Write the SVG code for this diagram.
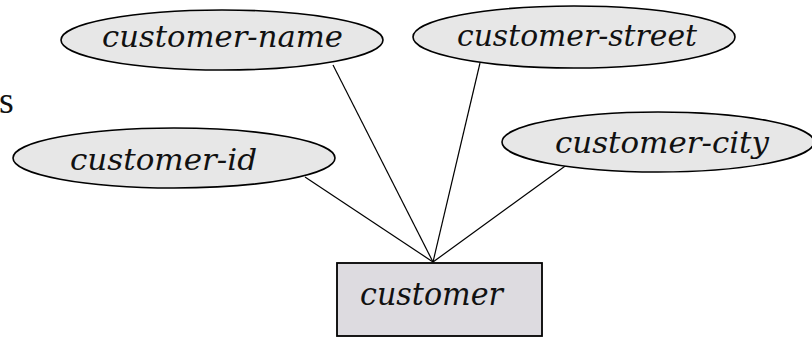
<svg xmlns="http://www.w3.org/2000/svg" width="812" height="338" viewBox="0 0 812 338">
<style>
.attr{fill:#e7e7e7;stroke:#000;stroke-width:1.6}
.ent{fill:#dddbe0;stroke:#000;stroke-width:1.8}
.t{font-family:"DejaVu Serif","Liberation Serif",serif;font-style:italic;fill:#111}
.s{font-family:"Liberation Serif","DejaVu Serif",serif;fill:#111}
.c{stroke:#000;stroke-width:1.2;fill:none}
</style>
<rect width="812" height="338" fill="#fff"/>
<text class="s" x="-1" y="113" font-size="38">s</text>
<g id="connectors">
<line class="c" x1="333" y1="65" x2="433" y2="262"/>
<line class="c" x1="480" y1="63" x2="433" y2="262"/>
<line class="c" x1="305" y1="177" x2="433" y2="262"/>
<line class="c" x1="568" y1="164" x2="433" y2="262"/>
</g>
<g id="customer-name">
<ellipse class="attr" cx="222" cy="40" rx="161" ry="30"/>
<text class="t" x="102" y="47" font-size="29" textLength="241" lengthAdjust="spacingAndGlyphs">customer-name</text>
</g>
<g id="customer-street">
<ellipse class="attr" cx="574" cy="37" rx="161" ry="31"/>
<text class="t" x="457" y="46" font-size="29" textLength="240" lengthAdjust="spacingAndGlyphs">customer-street</text>
</g>
<g id="customer-id">
<ellipse class="attr" cx="174" cy="158" rx="161" ry="30"/>
<text class="t" x="70" y="170" font-size="29" textLength="187" lengthAdjust="spacingAndGlyphs">customer-id</text>
</g>
<g id="customer-city">
<ellipse class="attr" cx="658" cy="142" rx="156" ry="30"/>
<text class="t" x="555" y="153" font-size="29" textLength="214" lengthAdjust="spacingAndGlyphs">customer-city</text>
</g>
<g id="customer">
<rect class="ent" x="337" y="263" width="205" height="73"/>
<text class="t" x="360" y="305" font-size="31" textLength="143" lengthAdjust="spacingAndGlyphs">customer</text>
</g>
</svg>
